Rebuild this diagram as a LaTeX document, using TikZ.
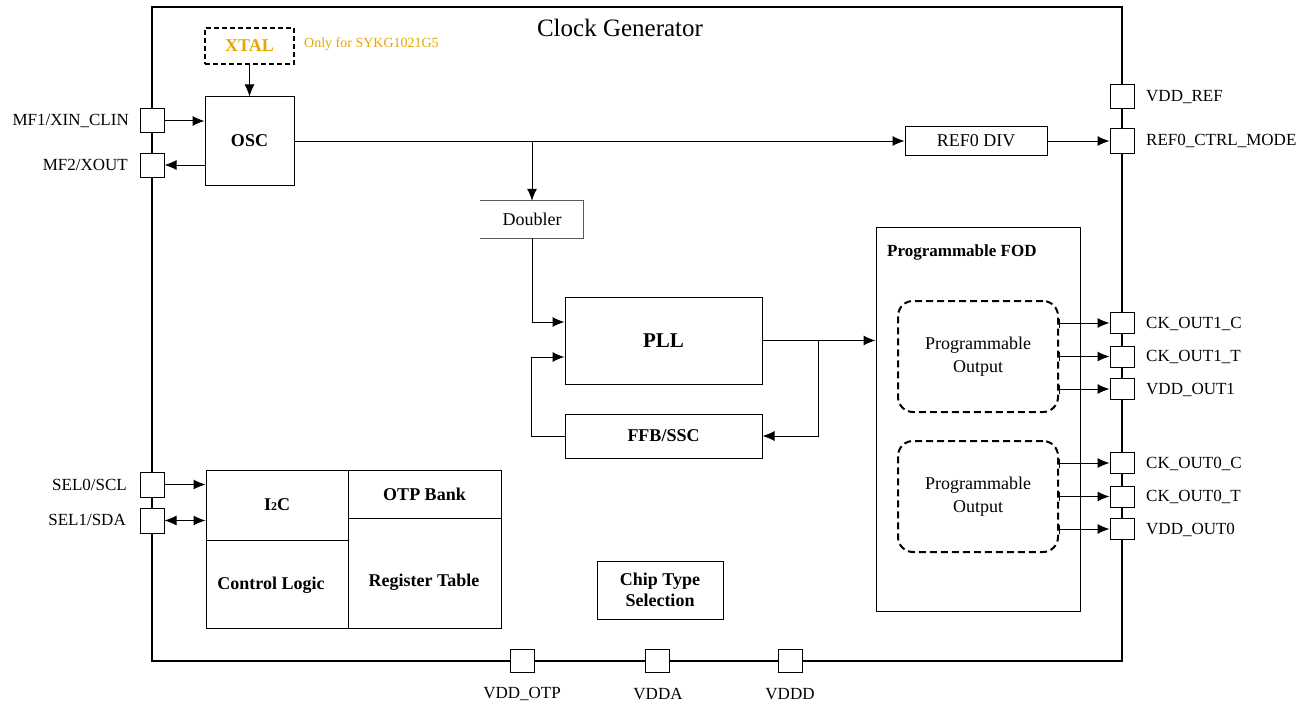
\documentclass[tikz,border=0pt]{standalone}
\usepackage{fontspec}
\setmainfont{Liberation Serif}
\usetikzlibrary{arrows.meta,calc}
\definecolor{gold}{RGB}{228,168,0}
\definecolor{dgray}{RGB}{90,90,90}
\begin{document}
\begin{tikzpicture}[x=1pt,y=-1pt,
 box/.style={draw,line width=1pt,inner sep=0pt,align=center,font=\bfseries\fontsize{18}{21}\selectfont},
 pin/.style={draw,fill=white,line width=1pt,minimum width=24pt,minimum height=22pt,inner sep=0pt},
 lbl/.style={font=\fontsize{17}{19}\selectfont,inner sep=0pt},
 txt/.style={inner sep=0pt,align=center,font=\bfseries\fontsize{18}{21}\selectfont},
 arr/.style={line width=1pt,-{Latex[length=12pt,width=10pt]}},
 barr/.style={line width=1pt,{Latex[length=12pt,width=10pt]}-{Latex[length=12pt,width=10pt]}},
 outarr/.style={line width=1pt,{Bar[width=9pt]}-{Latex[length=12pt,width=10pt]}},
 dbox/.style={draw,line width=2pt,dash pattern=on 7pt off 4pt,rounded corners=15pt,minimum width=160pt,minimum height=111pt,inner sep=0pt,align=center,font=\fontsize{18}{23}\selectfont}
]
\useasboundingbox (0,0) rectangle (1311,706);

% main frame
\node[draw,line width=2pt,minimum width=970pt,minimum height=654pt,inner sep=0pt] (frame) at (637,334) {};
\node[inner sep=0pt,font=\fontsize{25}{28}\selectfont] (title) at (620,28) {Clock Generator};

% XTAL
\node[draw,line width=1.6pt,dash pattern=on 5pt off 3pt,minimum width=89pt,minimum height=36pt,inner sep=0pt,text=gold,font=\bfseries\fontsize{18}{20}\selectfont] (xtal) at (249.5,46) {XTAL};
\node[anchor=west,inner sep=0pt,text=gold,font=\fontsize{14}{16}\selectfont] (only) at (304,44) {Only for SYKG1021G5};

% OSC
\node[box,minimum width=89pt,minimum height=88pt] (osc) at (249.5,141) {OSC};
\draw[arr] (xtal.south) -- (osc.north);

% left pins
\node[pin,minimum height=24pt] (mf1) at (152,121) {};
\node[pin,minimum height=24pt] (mf2) at (152,165) {};
\node[lbl,anchor=east] (mf1l) at (129,121) {MF1/XIN\_CLIN};
\node[lbl,anchor=east] (mf2l) at (128,165) {MF2/XOUT};
\draw[arr] (mf1.east) -- (mf1.east -| osc.west);
\draw[arr] (mf2.east -| osc.west) -- (mf2.east);

% REF0 DIV
\node[draw,line width=1pt,minimum width=142pt,minimum height=28pt,inner sep=0pt,font=\fontsize{18}{20}\selectfont] (refdiv) at (976,141) {REF0 DIV};
\node[pin,minimum height=24pt] (vddref) at (1122,97) {};
\node[pin,minimum height=24pt] (refpin) at (1122,141) {};
\node[lbl,anchor=west] (vddrefl) at (1146,97) {VDD\_REF};
\node[lbl,anchor=west] (refpinl) at (1146,141) {REF0\_CTRL\_MODE};
\draw[arr] (osc.east) -- (refdiv.west);
\draw[arr] (refdiv.east) -- (refpin.west);

% Doubler
\node[inner sep=0pt,minimum width=103pt,minimum height=37pt,font=\fontsize{18}{20}\selectfont] (doubler) at (532,219.5) {Doubler};
\draw[dgray,line width=0.8pt] (doubler.north west) -- (doubler.north east) -- (doubler.south east) -- (doubler.south west);
\coordinate (br1) at (doubler.north |- osc.east);
\draw[arr] (br1) -- (doubler.north);

% PLL and FFB
\node[box,minimum width=197pt,minimum height=87pt,font=\bfseries\fontsize{21}{23}\selectfont] (pll) at (663.5,340.5) {PLL};
\node[box,minimum width=197pt,minimum height=44pt] (ffb) at (663.5,436) {FFB/SSC};
\draw[arr] (doubler.south) |- ($(pll.west)+(0,-18.5)$);
\draw[arr] (ffb.west) -- ++(-33,0) |- ($(pll.west)+(0,16.5)$);

% FOD
\node[draw,line width=1pt,minimum width=204pt,minimum height=384pt,inner sep=0pt] (fod) at (978,419) {};
\node[txt,anchor=west,font=\bfseries\fontsize{17}{20}\selectfont] (fodt) at (887,252) {Programmable FOD};
\draw[arr] (pll.east) -- (pll.east -| fod.west);
\coordinate (br2) at ($(pll.east)+(56,0)$);
\draw[arr] (br2) |- (ffb.east);

\node[dbox] (po1) at (978,356.5) {Programmable\\Output};
\node[dbox] (po2) at (978,496.5) {Programmable\\Output};

% output pins
\node[pin,minimum height=21pt] (o1c) at (1122,323) {};
\node[pin,minimum height=21pt] (o1t) at (1122,356.5) {};
\node[pin,minimum height=21pt] (v1) at (1122,389) {};
\node[pin,minimum height=21pt] (o0c) at (1122,463) {};
\node[pin,minimum height=21pt] (o0t) at (1122,496.5) {};
\node[pin,minimum height=21pt] (v0) at (1122,529) {};
\node[lbl,anchor=west] (o1cl) at (1146,324) {CK\_OUT1\_C};
\node[lbl,anchor=west] (o1tl) at (1146,357) {CK\_OUT1\_T};
\node[lbl,anchor=west] (v1l) at (1146,390) {VDD\_OUT1};
\node[lbl,anchor=west] (o0cl) at (1146,464) {CK\_OUT0\_C};
\node[lbl,anchor=west] (o0tl) at (1146,497) {CK\_OUT0\_T};
\node[lbl,anchor=west] (v0l) at (1146,530) {VDD\_OUT0};
\foreach \p/\q in {o1c/po1,o1t/po1,v1/po1,o0c/po2,o0t/po2,v0/po2}
  \draw[outarr] (\q.east |- \p.west) -- (\p.west);

% control block
\node[box,minimum width=142pt,minimum height=70pt] (i2c) at (277,505) {I{\fontsize{12}{12}\selectfont 2}C};
\node[box,minimum width=153pt,minimum height=48pt] (otp) at (424.5,494) {OTP Bank};
\node[box,minimum width=142pt,minimum height=88pt] (ctrl) at (277,584) {};
\node[txt] (ctrlt) at (271,585) {Control Logic};
\node[box,minimum width=153pt,minimum height=110pt] (reg) at (424.5,573) {};
\node[txt] (regt) at (424,582) {Register Table};

\node[pin,minimum height=25pt] (sel0) at (152,484.5) {};
\node[pin,minimum height=25pt] (sel1) at (152,520.5) {};
\node[lbl,anchor=east] (sel0l) at (127,485) {SEL0/SCL};
\node[lbl,anchor=east] (sel1l) at (126,520) {SEL1/SDA};
\draw[arr] (sel0.east) -- (sel0.east -| i2c.west);
\draw[barr] (sel1.east) -- (sel1.east -| i2c.west);

% chip type
\node[box,minimum width=126pt,minimum height=58pt] (chip) at (660,590) {Chip Type\\Selection};

% bottom pins
\node[pin,minimum height=23pt] (votp) at (522,661) {};
\node[pin,minimum height=23pt] (vdda) at (657,661) {};
\node[pin,minimum height=23pt] (vddd) at (790,661) {};
\node[lbl] (votpl) at (522,694) {VDD\_OTP};
\node[lbl] (vddal) at (658,694) {VDDA};
\node[lbl] (vdddl) at (790,694) {VDDD};
\end{tikzpicture}
\end{document}
